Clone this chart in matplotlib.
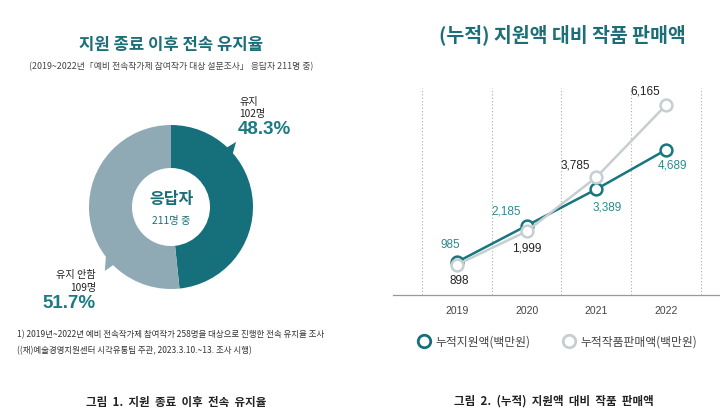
import numpy as np
import matplotlib
matplotlib.use("Agg")
import matplotlib.pyplot as plt
from matplotlib.patches import Polygon
from matplotlib.lines import Line2D

plt.rcParams['font.family'] = ['Noto Sans CJK KR', 'DejaVu Sans']
NUM = ['Liberation Sans', 'Noto Sans CJK KR']

# --- data ---
donut_labels = ['유지', '유지 안함']
donut_counts = [102, 109]
donut_pcts = ['48.3%', '51.7%']

years = ['2019', '2020', '2021', '2022']
support = [985, 2185, 3389, 4689]      # 누적지원액(백만원)
sales = [898, 1999, 3785, 6165]        # 누적작품판매액(백만원)

TEAL = '#15707c'
GREY = '#8fa9b5'
LIGHT = '#c5cfd2'
TITLE = '#1c6e77'

W, H = 720, 411
fig = plt.figure(figsize=(7.2, 4.11), dpi=100)

def px(x, y):
    return x / W, 1 - y / H

# ---------- left: donut ----------
fig.text(*px(171, 45), '지원 종료 이후 전속 유지율', ha='center', va='center',
         fontsize=12, fontweight='bold', color=TITLE)
fig.text(*px(171, 67), '(2019~2022년「예비 전속작가제 참여작가 대상 설문조사」 응답자 211명 중)',
         ha='center', va='center', fontsize=6.4, color='#444444')

cx, cy, half = 171, 207, 100
ax1 = fig.add_axes([(cx - half) / W, 1 - (cy + half) / H, 2 * half / W, 2 * half / H])
ax1.pie(donut_counts, colors=[TEAL, GREY], startangle=90, counterclock=False,
        radius=0.82, wedgeprops=dict(width=0.43, linewidth=0))
ax1.set_xlim(-1, 1)
ax1.set_ylim(-1, 1)
ax1.set_aspect('equal')
ax1.axis('off')

# speech-bubble pointers on the ring
def pointer(a1, a2, atip, color):
    r0, rt = 0.76, 0.92
    pts = [(r0 * np.cos(np.radians(a1)), r0 * np.sin(np.radians(a1))),
           (rt * np.cos(np.radians(atip)), rt * np.sin(np.radians(atip))),
           (r0 * np.cos(np.radians(a2)), r0 * np.sin(np.radians(a2)))]
    ax1.add_patch(Polygon(pts, closed=True, color=color, lw=0))

pointer(38, 48, 45, TEAL)
pointer(212, 226, 224, GREY)

ax1.text(0, 0.08, '응답자', ha='center', va='center', fontsize=11.5,
         fontweight='bold', color=TITLE)
ax1.text(0, -0.14, '211명 중', ha='center', va='center', fontsize=7.4, color=TITLE)

lab = dict(fontsize=7.3, color='#222222', va='center')
pct = dict(fontsize=13.5, fontweight='bold', color='#1b7b83', va='center', family=NUM)
fig.text(*px(239, 102), donut_labels[0], ha='left', **lab)
fig.text(*px(239, 114), f'{donut_counts[0]}명', ha='left', **lab)
fig.text(*px(238, 129), donut_pcts[0], ha='left', **pct)
fig.text(*px(96, 275), donut_labels[1], ha='right', **lab)
fig.text(*px(96, 288), f'{donut_counts[1]}명', ha='right', **lab)
fig.text(*px(96, 303), donut_pcts[1], ha='right', **pct)

fig.text(*px(17, 335), '1) 2019년~2022년 예비 전속작가제 참여작가 258명을 대상으로 진행한 전속 유지율 조사',
         ha='left', va='center', fontsize=6.1, color='#333333')
fig.text(*px(17, 351), '((재)예술경영지원센터 시각유통팀 주관, 2023.3.10.~13. 조사 시행)',
         ha='left', va='center', fontsize=6.1, color='#333333')
fig.text(*px(176, 402), '그림  1.  지원  종료  이후  전속  유지율', ha='center', va='center',
         fontsize=8.3, fontweight='bold', color='#222222')

# ---------- right: line chart ----------
fig.text(*px(562, 35), '(누적) 지원액 대비 작품 판매액', ha='center', va='center',
         fontsize=14, fontweight='bold', color=TITLE)

ax2 = fig.add_axes([393 / W, 1 - 295 / H, 327 / W, 207 / H])
x = np.arange(len(years))
for xv in np.arange(-0.5, len(years), 1.0):
    ax2.axvline(xv, color='#aaaaaa', lw=0.8, ls=(0, (1, 2)), zorder=0)

ax2.plot(x, support, color='#17767e', lw=1.8, marker='o', ms=8.5,
         mfc='white', mec='#17767e', mew=1.8, zorder=3)
ax2.plot(x, sales, color=LIGHT, lw=1.8, marker='o', ms=8.5,
         mfc='white', mec=LIGHT, mew=1.8, zorder=4)

sup_off = [(-7, 17), (-20, 14), (11, -18), (7, -16)]
sal_off = [(2, -16), (0, -17), (-21, 12), (-20, 14)]
for i in range(len(years)):
    ax2.annotate(f'{support[i]:,}', (x[i], support[i]), xytext=sup_off[i],
                 textcoords='offset pixels', ha='center', va='center',
                 fontsize=8.5, color='#2a8a90', family=NUM)
    ax2.annotate(f'{sales[i]:,}', (x[i], sales[i]), xytext=sal_off[i],
                 textcoords='offset pixels', ha='center', va='center',
                 fontsize=8.5, color='#222222', family=NUM)

ax2.set_xlim(-0.92, 3.78)
ax2.set_ylim(-106, 6739)
ax2.set_xticks(x)
ax2.set_xticklabels(years, fontsize=7.5, color='#444444', family=NUM)
ax2.tick_params(axis='x', length=0, pad=8)
ax2.set_yticks([])
for s in ['top', 'left', 'right']:
    ax2.spines[s].set_visible(False)
ax2.spines['bottom'].set_color('#999999')
ax2.spines['bottom'].set_linewidth(0.9)
ax2.patch.set_alpha(0)

handles = [Line2D([], [], ls='none', marker='o', ms=9, mfc='white', mec='#15707c', mew=2),
           Line2D([], [], ls='none', marker='o', ms=9, mfc='white', mec=LIGHT, mew=2)]
fig.legend(handles, ['누적지원액(백만원)', '누적작품판매액(백만원)'], loc='center',
           bbox_to_anchor=px(557, 342), ncol=2, frameon=False, fontsize=8.5,
           labelcolor='#444444', handletextpad=0.4, columnspacing=2.6, handlelength=1.2)

fig.text(*px(554, 401), '그림  2.  (누적)  지원액  대비  작품  판매액', ha='center', va='center',
         fontsize=8.3, fontweight='bold', color='#222222')

fig.savefig('out.png', dpi=100)
